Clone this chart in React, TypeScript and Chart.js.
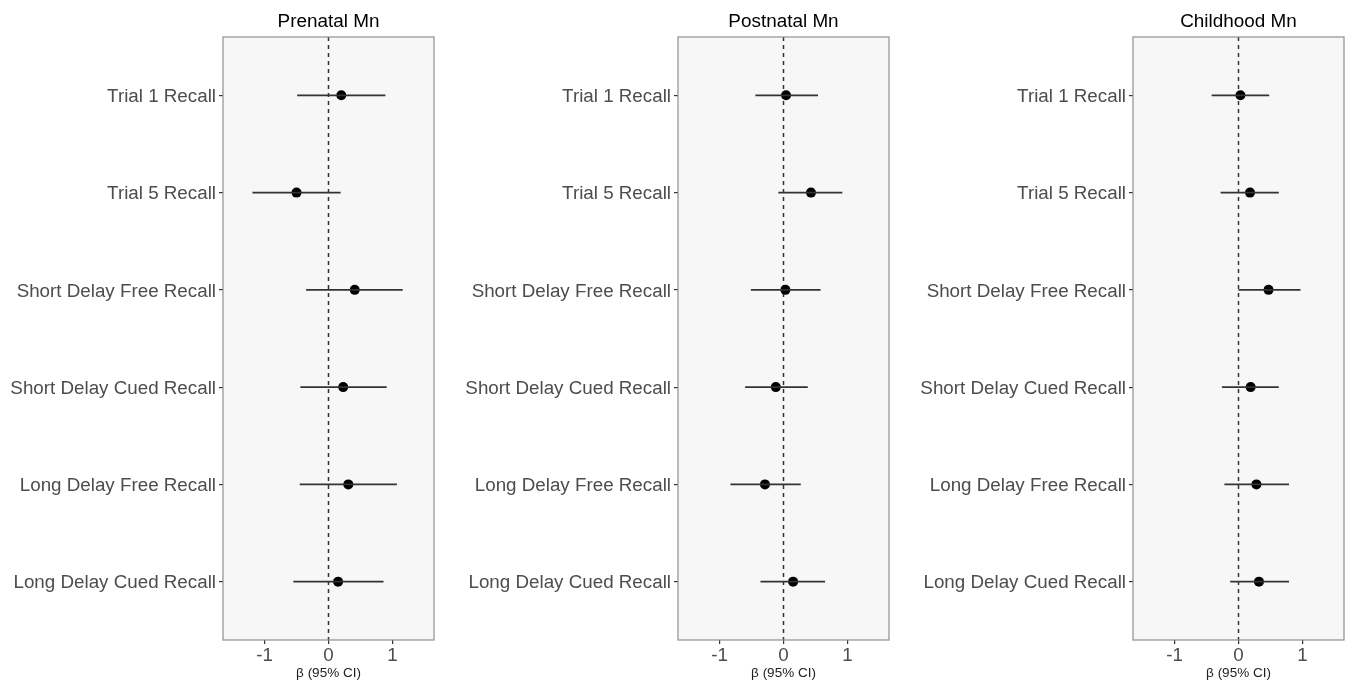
import React, { useEffect, useRef } from "react";
import { Chart, registerables } from "chart.js";

Chart.register(...registerables);

const CATEGORIES = [
  "Trial 1 Recall",
  "Trial 5 Recall",
  "Short Delay Free Recall",
  "Short Delay Cued Recall",
  "Long Delay Free Recall",
  "Long Delay Cued Recall",
];

const X_TICKS = [-1, 0, 1];
const X_MIN = -1.65;
const X_MAX = 1.65;

const PANEL_TITLES = ["Prenatal Mn", "Postnatal Mn", "Childhood Mn"];

const PRENATAL_EST = [0.2, -0.5, 0.41, 0.23, 0.31, 0.15];
const PRENATAL_LO = [-0.49, -1.19, -0.35, -0.44, -0.45, -0.55];
const PRENATAL_HI = [0.89, 0.19, 1.16, 0.91, 1.07, 0.86];

const POSTNATAL_EST = [0.04, 0.43, 0.03, -0.12, -0.29, 0.15];
const POSTNATAL_LO = [-0.44, -0.08, -0.51, -0.6, -0.83, -0.36];
const POSTNATAL_HI = [0.54, 0.92, 0.58, 0.38, 0.27, 0.65];

const CHILDHOOD_EST = [0.03, 0.18, 0.47, 0.19, 0.28, 0.32];
const CHILDHOOD_LO = [-0.42, -0.28, 0.0, -0.26, -0.22, -0.13];
const CHILDHOOD_HI = [0.48, 0.63, 0.97, 0.63, 0.79, 0.79];

const PANELS = [
  { title: PANEL_TITLES[0], est: PRENATAL_EST, lo: PRENATAL_LO, hi: PRENATAL_HI },
  { title: PANEL_TITLES[1], est: POSTNATAL_EST, lo: POSTNATAL_LO, hi: POSTNATAL_HI },
  { title: PANEL_TITLES[2], est: CHILDHOOD_EST, lo: CHILDHOOD_LO, hi: CHILDHOOD_HI },
];

const FONT = "'Liberation Sans', Arial, Helvetica, sans-serif";
const CANVAS_W = 439;
const CANVAS_H = 683;
const PANEL_STEP = 455;

const panelPlugin = {
  id: "panelDecor",
  beforeDatasetsDraw(chart: any) {
    const { ctx, chartArea } = chart;
    const { left, top, right, bottom } = chartArea;
    ctx.save();
    ctx.fillStyle = "#f7f7f7";
    ctx.fillRect(left, top, right - left, bottom - top);
    const x0 = chart.scales.x.getPixelForValue(0);
    ctx.strokeStyle = "#333333";
    ctx.lineWidth = 1.5;
    ctx.setLineDash([4, 4]);
    ctx.beginPath();
    ctx.moveTo(x0, top);
    ctx.lineTo(x0, bottom);
    ctx.stroke();
    ctx.restore();
  },
  afterDraw(chart: any) {
    const { ctx, chartArea } = chart;
    const { left, top, right, bottom } = chartArea;
    ctx.save();
    ctx.strokeStyle = "#8f8f8f";
    ctx.lineWidth = 1.2;
    ctx.strokeRect(left, top, right - left, bottom - top);
    ctx.restore();
  },
};

function Panel({ panel, left }: { panel: any; left: number }) {
  const ref = useRef<HTMLCanvasElement | null>(null);
  useEffect(() => {
    if (!ref.current) return;
    const barSets = CATEGORIES.map((_, i) => ({
      type: "scatter" as const,
      data: [
        { x: panel.lo[i], y: i + 1 },
        { x: panel.hi[i], y: i + 1 },
      ],
      showLine: true,
      borderColor: "#333333",
      borderWidth: 1.8,
      pointRadius: 0,
      pointHoverRadius: 0,
    }));
    const pointSet = {
      type: "scatter" as const,
      data: CATEGORIES.map((_, i) => ({ x: panel.est[i], y: i + 1 })),
      pointRadius: 5,
      pointBackgroundColor: "#000000",
      pointBorderWidth: 0,
      showLine: false,
    };
    const chart = new Chart(ref.current, {
      type: "scatter",
      data: { datasets: [...barSets, pointSet] as any },
      options: {
        animation: false,
        responsive: false,
        events: [],
        layout: { padding: { left: 0, right: 3, top: 0, bottom: 0 } },
        plugins: {
          legend: { display: false },
          tooltip: { enabled: false },
          title: {
            display: true,
            text: panel.title,
            fullSize: false,
            color: "#000000",
            font: { family: FONT, size: 18.9, weight: "normal" },
            padding: { top: 10.5, bottom: 3.8 },
          },
        },
        scales: {
          x: {
            type: "linear",
            min: X_MIN,
            max: X_MAX,
            afterBuildTicks: (scale: any) => {
              scale.ticks = X_TICKS.map((v) => ({ value: v }));
            },
            afterFit: (scale: any) => {
              scale.height = CANVAS_H - 640;
            },
            grid: {
              drawOnChartArea: false,
              drawTicks: true,
              tickLength: 4,
              color: "#333333",
              lineWidth: 1.2,
            },
            border: { display: false },
            ticks: {
              padding: 1,
              color: "#4d4d4d",
              font: { family: FONT, size: 18.8 },
              callback: (v: any) => String(v),
            },
            title: {
              display: true,
              text: "β (95% CI)",
              color: "#222222",
              font: { family: FONT, size: 13.5 },
              padding: { top: 0, bottom: 1.2 },
            },
          },
          y: {
            type: "linear",
            min: 0.4,
            max: CATEGORIES.length + 0.6,
            reverse: true,
            afterBuildTicks: (scale: any) => {
              scale.ticks = CATEGORIES.map((_, i) => ({ value: i + 1 }));
            },
            afterFit: (scale: any) => {
              scale.width = 223;
            },
            grid: {
              drawOnChartArea: false,
              drawTicks: true,
              tickLength: 4,
              color: "#333333",
              lineWidth: 1.2,
            },
            border: { display: false },
            ticks: {
              padding: 3,
              labelOffset: 1.5,
              color: "#4d4d4d",
              font: { family: FONT, size: 18.8 },
              callback: (v: any) => CATEGORIES[Math.round(Number(v)) - 1] ?? "",
            },
          },
        },
      },
      plugins: [panelPlugin],
    } as any);
    return () => chart.destroy();
  }, [panel]);
  return (
    <canvas
      ref={ref}
      width={CANVAS_W}
      height={CANVAS_H}
      style={{ position: "absolute", left, top: 0, width: CANVAS_W, height: CANVAS_H, display: "block" }}
    />
  );
}

export default function App() {
  return (
    <div
      style={{
        position: "absolute",
        left: 0,
        top: 0,
        width: 1349,
        height: 683,
        background: "#ffffff",
        overflow: "hidden",
      }}
    >
      {PANELS.map((p, i) => (
        <Panel key={p.title} panel={p} left={i * PANEL_STEP} />
      ))}
    </div>
  );
}
